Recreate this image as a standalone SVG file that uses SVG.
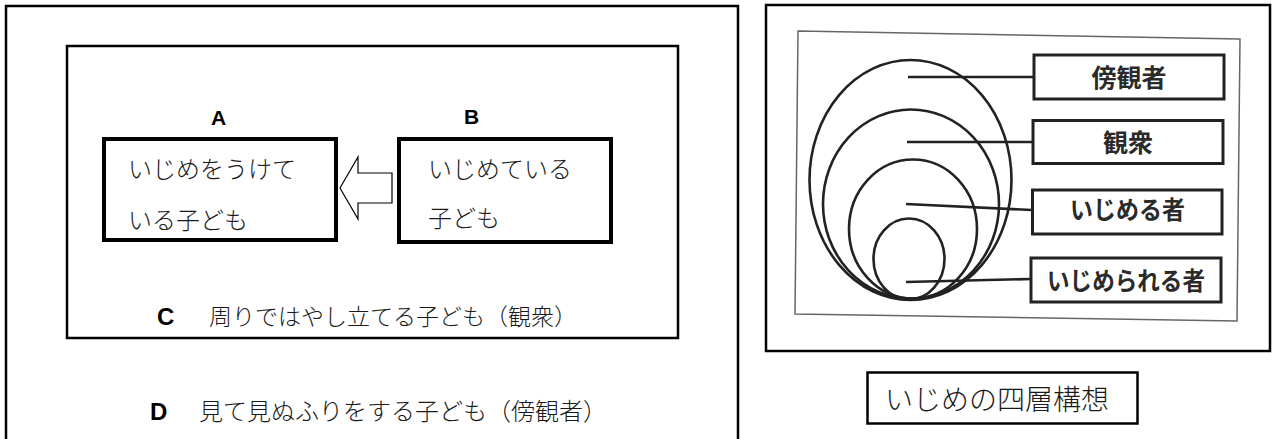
<svg xmlns="http://www.w3.org/2000/svg" width="1272" height="439" viewBox="0 0 1272 439">
<style>
.frame{fill:none;stroke:#000;stroke-width:2.5}
.box{fill:#fff;stroke:#000;stroke-width:4}
.jp{font-family:"Noto Sans CJK JP","Noto Sans CJK SC",sans-serif;font-weight:300;fill:#1a1a1a}
.lat{font-family:"Liberation Sans",Arial,sans-serif;font-weight:bold;fill:#000}
.ring{fill:none;stroke:#222;stroke-width:2.6}
.lead{fill:none;stroke:#222;stroke-width:2.6}
.lbox{fill:#fff;stroke:#222;stroke-width:3}
.lbl{font-family:"Noto Sans CJK JP","Noto Sans CJK SC",sans-serif;font-weight:bold;fill:#2a2a2a;font-size:25px;text-anchor:middle}
</style>
<rect width="1272" height="439" fill="#fff"/>

<g id="panel-left">
  <rect id="outer-D" class="frame" x="6" y="6" width="732" height="460"/>
  <rect id="inner-C" class="frame" x="67" y="46" width="611" height="292"/>
</g>

<g id="node-A">
  <text class="lat" x="218.5" y="125" font-size="21" text-anchor="middle">A</text>
  <rect class="box" x="104" y="139" width="232" height="101"/>
  <text class="jp" x="128" y="178" font-size="24">いじめをうけて</text>
  <text class="jp" x="128" y="229" font-size="24">いる子ども</text>
</g>

<g id="node-B">
  <text class="lat" x="471.5" y="124" font-size="21" text-anchor="middle">B</text>
  <rect class="box" x="399" y="139" width="212" height="103"/>
  <text class="jp" x="428" y="178" font-size="24">いじめている</text>
  <text class="jp" x="428" y="227" font-size="24">子ども</text>
</g>

<g id="connectors">
  <polygon points="340,188 358,157 358,173 392,173 392,203 358,203 358,219" fill="#fff" stroke="#000" stroke-width="1.2"/>
</g>

<g id="node-C">
  <text class="lat" x="157" y="325" font-size="24">C</text>
  <text class="jp" x="209" y="325" font-size="23">周りではやし立てる子ども（観衆）</text>
</g>

<g id="node-D">
  <text class="lat" x="150" y="420" font-size="24">D</text>
  <text class="jp" x="199" y="420" font-size="24">見て見ぬふりをする子ども（傍観者）</text>
</g>

<g id="panel-right">
  <rect class="frame" x="766" y="5" width="504" height="346" stroke-width="2"/>
  <polygon points="798,31 1240,39 1237,321 795,314" fill="none" stroke="#666" stroke-width="1.5"/>
  <g id="rings">
    <ellipse class="ring" cx="910.5" cy="180" rx="101" ry="120"/>
    <ellipse class="ring" cx="911" cy="204" rx="88" ry="94.5"/>
    <ellipse class="ring" cx="913" cy="229" rx="64" ry="69.5"/>
    <ellipse class="ring" cx="909" cy="259" rx="35.5" ry="40.5"/>
  </g>
  <g id="leaders">
    <line class="lead" x1="908" y1="77" x2="1034" y2="77"/>
    <line class="lead" x1="907" y1="142" x2="1033" y2="142"/>
    <line class="lead" x1="906" y1="204" x2="1032" y2="210"/>
    <line class="lead" x1="906" y1="282" x2="1031" y2="279"/>
  </g>
  <g id="label-bokansha">
    <rect class="lbox" x="1034" y="55" width="190" height="44"/>
    <text class="lbl" x="1129" y="87">傍観者</text>
  </g>
  <g id="label-kanshu">
    <rect class="lbox" x="1033" y="120.5" width="190" height="43"/>
    <text class="lbl" x="1128" y="152">観衆</text>
  </g>
  <g id="label-ijimeru">
    <rect class="lbox" x="1032.5" y="190" width="189.5" height="44"/>
    <text class="lbl" x="1127.5" y="219" font-size="24" textLength="115" lengthAdjust="spacingAndGlyphs">いじめる者</text>
  </g>
  <g id="label-ijimerareru">
    <rect class="lbox" x="1031" y="258" width="190" height="44"/>
    <text class="lbl" x="1126" y="290" font-size="24" textLength="158" lengthAdjust="spacingAndGlyphs">いじめられる者</text>
  </g>
</g>

<g id="caption">
  <rect class="frame" x="867.5" y="372.5" width="270" height="51" stroke-width="2"/>
  <text class="jp" x="885" y="410" font-size="28">いじめの四層構想</text>
</g>
</svg>
